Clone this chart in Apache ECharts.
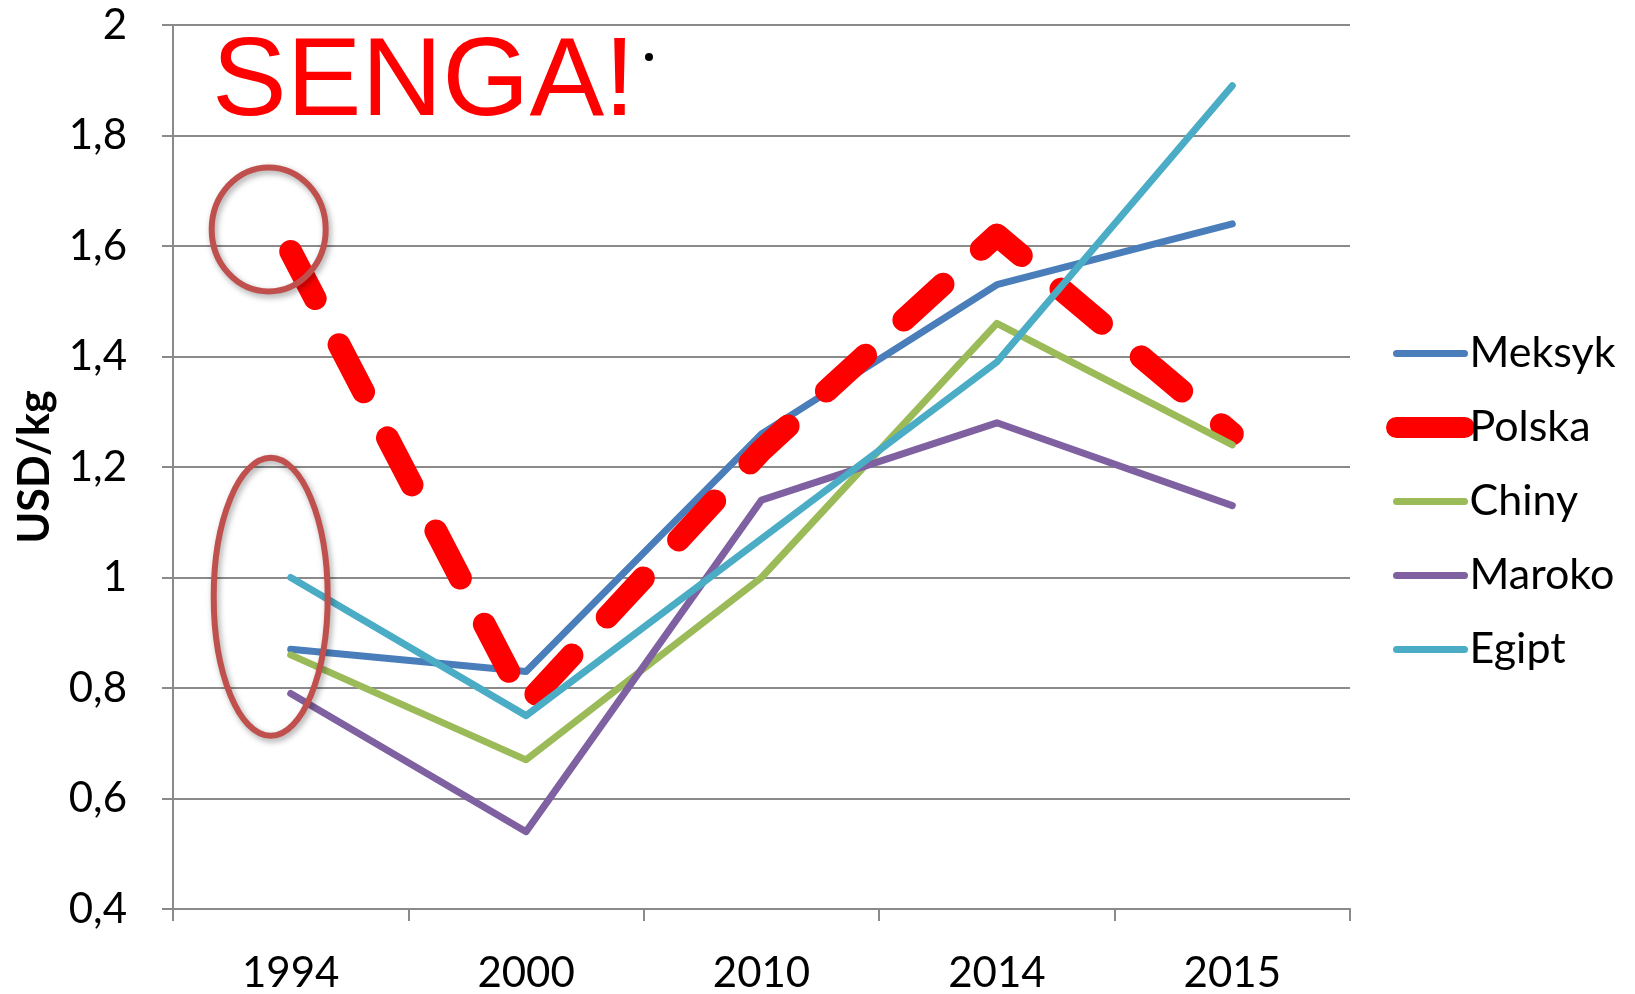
<!DOCTYPE html>
<html>
<head>
<meta charset="utf-8">
<script src="https://cdn.jsdelivr.net/npm/echarts@6/dist/echarts.min.js"></script>
<style>
html, body { margin: 0; padding: 0; background: #fff; }
#main { width: 1635px; height: 994px; }
</style>
</head>
<body>
<div id="main"></div>
<script>
// dane (USD/kg)
var years = ['1994', '2000', '2010', '2014', '2015'];
var meksyk = [0.87, 0.83, 1.26, 1.53, 1.64];
var polska = [1.59, 0.77, 1.23, 1.62, 1.26];
var chiny = [0.86, 0.67, 1.00, 1.46, 1.24];
var maroko = [0.79, 0.54, 1.14, 1.28, 1.13];
var egipt = [1.00, 0.75, 1.07, 1.39, 1.89];
var seriesNames = ['Meksyk', 'Polska', 'Chiny', 'Maroko', 'Egipt'];
var seriesColors = ['#4A7EBB', '#FF0000', '#9BBB59', '#7F60A0', '#4BACC6'];
var seriesData = [meksyk, polska, chiny, maroko, egipt];

var axisGray = '#8A8A8A';
var main = document.getElementById('main');
var myChart = echarts.init(main);

var series = seriesNames.map(function (name, i) {
    var isPl = name === 'Polska';
    return {
        name: name,
        type: 'line',
        symbol: 'none',
        data: seriesData[i],
        itemStyle: { color: seriesColors[i] },
        lineStyle: {
            color: seriesColors[i],
            width: isPl ? 23 : 7,
            type: isPl ? [53, 52] : 'solid',
            cap: 'round',
            join: 'round'
        },
        z: 2 + i
    };
});

myChart.setOption({
    animation: false,
    grid: { left: 173, right: 285, top: 25, bottom: 83 },
    legend: {
        orient: 'vertical',
        left: 1381,
        top: 327,
        itemWidth: 68,
        itemHeight: 20,
        itemGap: 31,
        itemStyle: { opacity: 0 },
        lineStyle: { width: 7, cap: 'round' },
        textStyle: { fontFamily: 'Lato', fontSize: 43, lineHeight: 42, color: '#000' },
        data: seriesNames.map(function (name) {
            if (name === 'Polska') return { name: name, lineStyle: { width: 21, type: 'solid', cap: 'round' } };
            return { name: name };
        })
    },
    xAxis: {
        type: 'category',
        data: years,
        boundaryGap: true,
        axisLine: { lineStyle: { color: axisGray, width: 2 } },
        axisTick: { show: true, length: 12, lineStyle: { color: axisGray, width: 2 } },
        axisLabel: { fontFamily: 'Lato', fontSize: 42, color: '#000', margin: 43 }
    },
    yAxis: {
        type: 'value',
        min: 0.4,
        max: 2,
        interval: 0.2,
        name: 'USD/kg',
        nameLocation: 'middle',
        nameGap: 116,
        nameTextStyle: { fontFamily: 'Lato', fontWeight: 'bold', fontSize: 43, color: '#000' },
        axisLine: { show: true, lineStyle: { color: axisGray, width: 2 } },
        axisTick: { show: true, length: 11, lineStyle: { color: axisGray, width: 2 } },
        splitLine: { lineStyle: { color: axisGray, width: 2 } },
        axisLabel: {
            fontFamily: 'Lato', fontSize: 42, color: '#000', margin: 46,
            formatter: function (v) { return String(+v.toFixed(1)).replace('.', ','); }
        }
    },
    series: series
});

// odręczne dopiski: kółka wokół 1994, napis i kropka
var c1 = myChart.convertToPixel({ seriesIndex: 0 }, ['1994', 1.63]);
var c2 = myChart.convertToPixel({ seriesIndex: 0 }, ['1994', 0.965]);
var ringStyle = {
    fill: 'none', stroke: '#C0504D', lineWidth: 6,
    shadowBlur: 6, shadowColor: 'rgba(0,0,0,0.35)', shadowOffsetX: 2, shadowOffsetY: 3
};
myChart.setOption({
    graphic: [
        { type: 'ellipse', z: 100, shape: { cx: c1[0] - 22, cy: c1[1], rx: 57, ry: 62 }, style: ringStyle },
        { type: 'ellipse', z: 100, shape: { cx: c2[0] - 20, cy: c2[1], rx: 57, ry: 139 }, style: ringStyle },
        {
            type: 'text', z: 100, x: 212, y: 84,
            style: { text: 'SENGA!', fill: '#FF0000', font: '112px "Liberation Sans"', verticalAlign: 'middle' }
        },
        { type: 'circle', z: 100, shape: { cx: 649, cy: 57, r: 4 }, style: { fill: '#000' } }
    ]
});
</script>
</body>
</html>
